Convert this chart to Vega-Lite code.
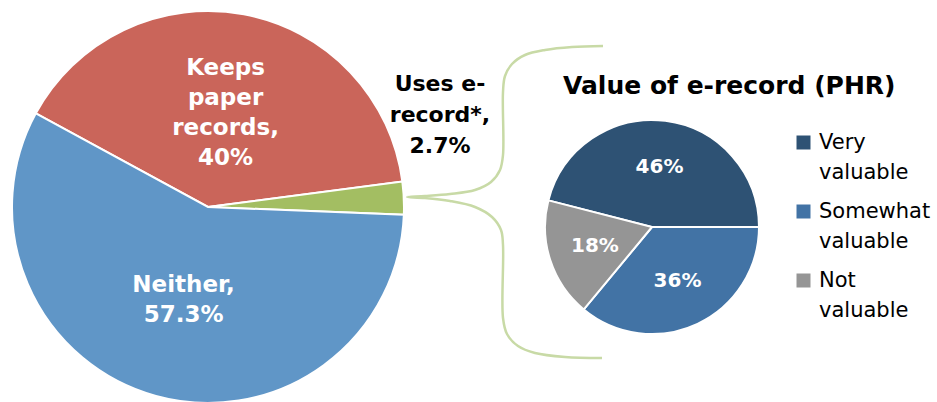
{
  "$schema": "https://vega.github.io/schema/vega-lite/v6.json",
  "padding": 0,
  "spacing": 0,
  "bounds": "flush",
  "align": "none",
  "resolve": {"scale": {"color": "independent", "theta": "independent", "x": "independent", "y": "independent"}, "legend": {"color": "independent"}},
  "config": {"view": {"stroke": null}, "font": "DejaVu Sans"},
  "hconcat": [
    {
      "width": 416,
      "height": 402,
      "data": {"values": [
        {"category": "Keeps paper records", "pct": 40, "rank": 1, "label": "Keeps\npaper\nrecords,\n40%"},
        {"category": "Uses e-record*", "pct": 2.7, "rank": 2, "label": "Uses e-\nrecord*,\n2.7%"},
        {"category": "Neither", "pct": 57.3, "rank": 3, "label": "Neither,\n57.3%"}
      ]},
      "encoding": {
        "theta": {"field": "pct", "type": "quantitative", "stack": true, "scale": {"range": [-1.0725, 5.2107]}},
        "order": {"field": "rank", "type": "quantitative"}
      },
      "layer": [
        {
          "mark": {"type": "arc", "outerRadius": 196, "stroke": "#ffffff", "strokeWidth": 2, "yOffset": 6},
          "encoding": {
            "color": {"field": "category", "type": "nominal",
              "scale": {"domain": ["Keeps paper records", "Uses e-record*", "Neither"], "range": ["#CA655A", "#A3BE62", "#6096C7"]},
              "legend": null}
          }
        },
        {
          "mark": {"type": "text", "radius": 96, "yOffset": 6, "dy": -45, "fontSize": 23, "fontWeight": "bold", "fill": "#ffffff", "lineBreak": "\n", "lineHeight": 30, "align": "center", "baseline": "middle"},
          "encoding": {
            "text": {"condition": {"test": "datum.rank != 1", "value": ""}, "field": "label", "type": "nominal"}
          }
        },
        {
          "mark": {"type": "text", "radius": 92, "yOffset": 6, "dy": -11, "fontSize": 23, "fontWeight": "bold", "fill": "#ffffff", "lineBreak": "\n", "lineHeight": 30, "align": "center", "baseline": "middle"},
          "encoding": {
            "text": {"condition": {"test": "datum.rank != 3", "value": ""}, "field": "label", "type": "nominal"}
          }
        },
        {
          "mark": {"type": "text", "radius": 0, "yOffset": 6, "dx": 232, "dy": -123, "fontSize": 22, "fontWeight": "bold", "fill": "#000000", "lineBreak": "\n", "lineHeight": 31, "align": "center", "baseline": "middle"},
          "encoding": {
            "text": {"condition": {"test": "datum.rank != 2", "value": ""}, "field": "label", "type": "nominal"}
          }
        }
      ]
    },
    {
      "width": 472,
      "height": 402,
      "title": {"text": "Value of e-record (PHR)", "anchor": "start", "frame": "group", "dx": 147, "offset": -119, "fontSize": 25, "fontWeight": "bold", "font": "DejaVu Sans", "color": "#000000", "baseline": "alphabetic"},
      "resolve": {"scale": {"color": "independent", "theta": "independent"}},
      "layer": [
        {
          "data": {"values": [
            {"seq": 1, "px": 603, "py": 46}, {"seq": 2, "px": 572, "py": 47}, {"seq": 3, "px": 545, "py": 50},
            {"seq": 4, "px": 525, "py": 55}, {"seq": 5, "px": 512, "py": 64}, {"seq": 6, "px": 505, "py": 76},
            {"seq": 7, "px": 503, "py": 92}, {"seq": 8, "px": 503, "py": 155}, {"seq": 9, "px": 500, "py": 170},
            {"seq": 10, "px": 491, "py": 182}, {"seq": 11, "px": 475, "py": 190}, {"seq": 12, "px": 450, "py": 194},
            {"seq": 13, "px": 425, "py": 196}, {"seq": 14, "px": 407, "py": 197}, {"seq": 15, "px": 425, "py": 198},
            {"seq": 16, "px": 450, "py": 201}, {"seq": 17, "px": 475, "py": 207}, {"seq": 18, "px": 492, "py": 217},
            {"seq": 19, "px": 501, "py": 230}, {"seq": 20, "px": 503, "py": 245}, {"seq": 21, "px": 503, "py": 318},
            {"seq": 22, "px": 507, "py": 334}, {"seq": 23, "px": 518, "py": 346}, {"seq": 24, "px": 535, "py": 353},
            {"seq": 25, "px": 565, "py": 357}, {"seq": 26, "px": 602, "py": 358}
          ]},
          "mark": {"type": "line", "stroke": "#C8DAA6", "strokeWidth": 2.5, "interpolate": "catmull-rom"},
          "encoding": {
            "x": {"field": "px", "type": "quantitative", "scale": {"domain": [416, 888]}, "axis": null},
            "y": {"field": "py", "type": "quantitative", "scale": {"domain": [402, 0]}, "axis": null},
            "order": {"field": "seq", "type": "quantitative"}
          }
        },
        {
          "data": {"values": [
            {"value": "Very valuable", "pct": 46, "rank": 1, "label": "46%"},
            {"value": "Somewhat valuable", "pct": 36, "rank": 2, "label": "36%"},
            {"value": "Not valuable", "pct": 18, "rank": 3, "label": "18%"}
          ]},
          "encoding": {
            "theta": {"field": "pct", "type": "quantitative", "stack": true, "scale": {"range": [-1.3195, 4.9637]}},
            "order": {"field": "rank", "type": "quantitative"}
          },
          "layer": [
            {
              "mark": {"type": "arc", "outerRadius": 107, "stroke": "#ffffff", "strokeWidth": 2, "yOffset": 26},
              "encoding": {
                "color": {"field": "value", "type": "nominal",
                  "scale": {"domain": ["Very valuable", "Somewhat valuable", "Not valuable"], "range": ["#2E5274", "#4273A5", "#959595"]},
                  "legend": {"orient": "none", "legendX": 377, "legendY": 132, "title": null, "padding": 0,
                    "labelExpr": "split(datum.label, ' ')", "labelFontSize": 21, "labelFont": "DejaVu Sans", "labelColor": "#000000",
                    "labelOffset": 5, "labelLimit": 300, "symbolType": "square", "symbolSize": 196, "symbolStrokeWidth": 0, "rowPadding": 17,
                    "encoding": {"labels": {"lineHeight": {"value": 30}}}}
                }
              }
            },
            {
              "mark": {"type": "text", "radius": 60, "yOffset": 26, "fontSize": 20, "fontWeight": "bold", "fill": "#ffffff", "align": "center", "baseline": "middle"},
              "encoding": {
                "text": {"field": "label", "type": "nominal"}
              }
            }
          ]
        }
      ]
    }
  ]
}
